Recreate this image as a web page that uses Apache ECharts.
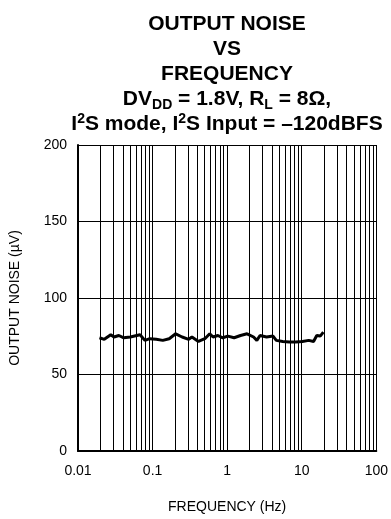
<!DOCTYPE html>
<html>
<head>
<meta charset="utf-8">
<script src="https://cdn.jsdelivr.net/npm/echarts@6/dist/echarts.min.js"></script>
<style>
html,body{margin:0;padding:0;background:#fff;}
#c{width:391px;height:519px;}
</style>
</head>
<body>
<div id="c"></div>
<script>
// Data
var freqHz = [0.0194,0.0225,0.0275,0.0304,0.0353,0.0411,0.0502,0.0679,0.0789,0.0917,0.112,0.137,0.167,0.204,0.249,0.305,0.337,0.412,0.502,0.584,0.647,0.752,0.873,1.02,1.24,1.51,1.85,2.26,2.50,2.76,3.38,4.12,4.56,5.56,6.81,8.32,10.2,12.4,14.4,15.9,17.7,19.5];
var noiseUV = [74.0,73.0,76.0,74.5,75.5,74.0,74.5,76.0,72.3,73.4,73.0,72.3,73.4,76.6,74.5,73.0,74.5,71.6,73.4,76.6,74.5,75.5,74.0,75.1,74.0,75.5,76.6,74.5,72.3,75.5,74.5,75.1,72.3,71.6,71.2,71.2,71.6,72.3,71.6,75.5,75.1,77.7];
var xTickLabels = {'0.01':'0.01','0.1':'0.1','1':'1','10':'10','100':'100'};
var yTicks = [0,50,100,150,200];
var decades = [0.01,0.1,1,10];
var minorMults = [2,3,4,5,6,7,8,9];

var minorLines = [];
decades.forEach(function(d){ minorMults.forEach(function(m){ minorLines.push({xAxis: +(d*m).toPrecision(3)}); }); });

var pts = freqHz.map(function(f,i){ return [f, noiseUV[i]]; });

var FONT = '"Liberation Sans", Arial, sans-serif';
var chart = echarts.init(document.getElementById('c'), null, {renderer:'canvas'});
chart.setOption({
  animation:false,
  backgroundColor:'#fff',
  title:{
    left:222, top:7, textAlign:'center',
    text:'{b|OUTPUT NOISE}\n{b|VS}\n{b|FREQUENCY}\n{b|DV}{sub|DD}{b| = 1.8V, R}{sub|L}{b| = 8Ω,}\n{b|I}{sup|2}{b|S mode, I}{sup|2}{b|S Input = –120dBFS}',
    textStyle:{
      fontFamily:FONT, fontWeight:'bold', fontSize:21, color:'#000', lineHeight:25,
      rich:{
        b:{fontFamily:FONT, fontWeight:'bold', fontSize:21, color:'#000', lineHeight:25},
        sub:{fontFamily:FONT, fontWeight:'bold', fontSize:14, color:'#000', lineHeight:16, verticalAlign:'bottom'},
        sup:{fontFamily:FONT, fontWeight:'bold', fontSize:14, color:'#000', lineHeight:16, verticalAlign:'top'}
      }
    }
  },
  grid:{left:73, right:12, top:145, bottom:66, containLabel:false},
  xAxis:{
    type:'log', logBase:10, min:0.01, max:100,
    name:'FREQUENCY (Hz)', nameLocation:'middle', nameGap:49,
    nameTextStyle:{fontFamily:FONT, fontSize:14, color:'#000'},
    axisLine:{show:true, onZero:false, lineStyle:{color:'#000', width:2}},
    axisTick:{show:false},
    axisLabel:{fontFamily:FONT, fontSize:14, color:'#000', margin:13,
      formatter:function(v){ var k = String(+v.toPrecision(3)); return xTickLabels[k] !== undefined ? xTickLabels[k] : ''; }},
    splitLine:{show:true, lineStyle:{color:'#000', width:1}}
  },
  yAxis:{
    type:'value', min:yTicks[0], max:yTicks[yTicks.length-1], interval:50,
    name:'OUTPUT NOISE (µV)', nameLocation:'middle', nameGap:56, nameRotate:90,
    nameTextStyle:{fontFamily:FONT, fontSize:14, color:'#000'},
    axisLine:{show:true, lineStyle:{color:'#000', width:2}},
    axisTick:{show:false},
    axisLabel:{fontFamily:FONT, fontSize:14, color:'#000', margin:11},
    splitLine:{show:true, lineStyle:{color:'#000', width:1}}
  },
  series:[{
    type:'line', data:pts, showSymbol:false, symbol:'none',
    lineStyle:{color:'#000', width:3}, z:5,
    markLine:{silent:true, symbol:['none','none'], label:{show:false},
      lineStyle:{color:'#000', width:1, type:'solid'}, data:minorLines, z:1, animation:false}
  }]
});
</script>
</body>
</html>
